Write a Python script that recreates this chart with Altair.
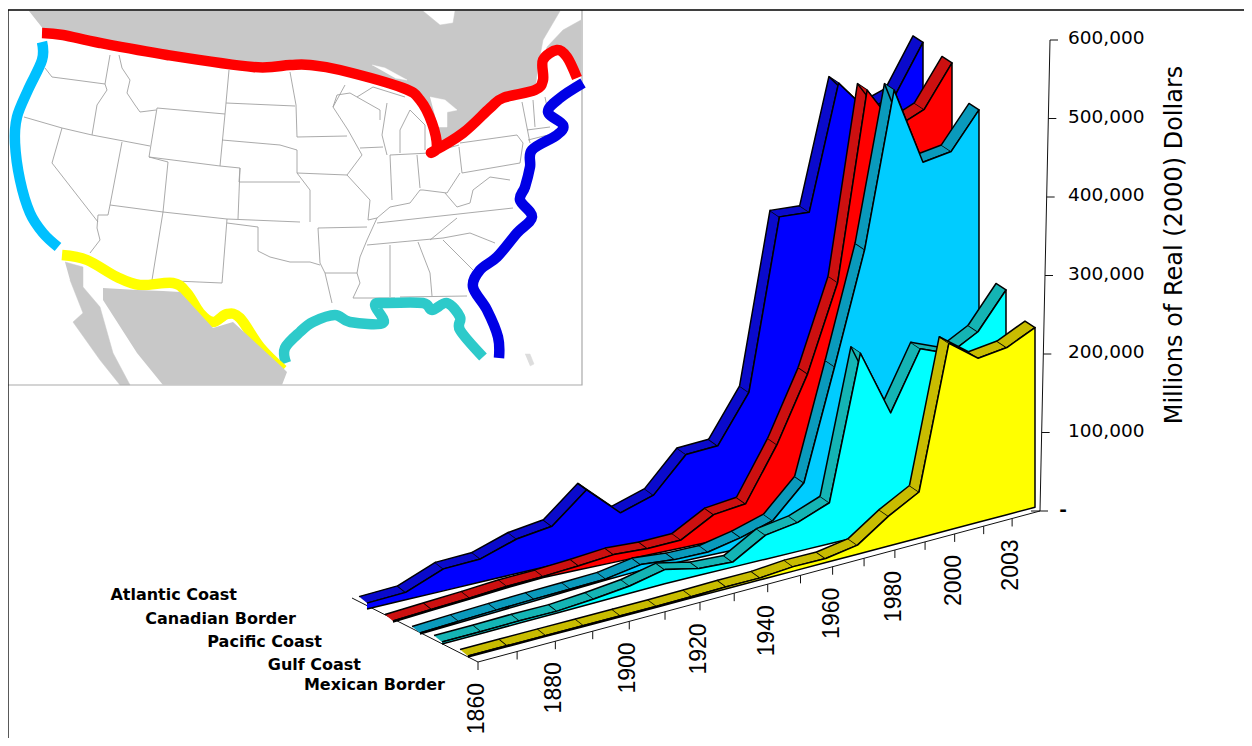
import altair as alt
import pandas as pd

# ---------- chart data (millions of real 2000 dollars) ----------
years = [1860,1870,1880,1890,1900,1910,1920,1930,1940,1950,1960,1970,1980,1990,2000,2002,2003,2004]
atlantic = [7500,9500,28000,29500,44000,49500,85500,46000,58500,100500,102000,160500,375000,372000,527500,484000,495500,554000]
canadian = [1300,1300,1300,1900,1300,5100,9900,8300,10200,33600,38700,105400,187300,295600,532500,477200,492300,544000]
pacific = [1300,2000,2300,2300,1800,1500,7400,4200,4600,13800,26400,65900,205100,346000,540800,440800,446700,491800]
gulf = [2500,2500,2900,2300,5100,9300,18200,8500,6400,30600,36900,52200,233100,147800,220400,205100,224200,268800]
mexican = [1300,1300,1300,1300,1300,1300,1800,2500,2500,5700,5100,11500,38000,58500,238000,209000,213000,229000]
series_names = ["Atlantic Coast","Canadian Border","Pacific Coast","Gulf Coast","Mexican Border"]
y_ticks = [100000,200000,300000,400000,500000,600000]

# ---------- inset map outlines, in image coordinates ----------
canada = [(29,11),(423,11),(440,25),(453,23),(455,11),(560,11),(543,40),(538,67),(535,90),(503,98),(490,108),(463,133),(432,152),(437,147),(432,123),(420,100),(403,88),(340,70),(290,65),(253,67),(167,55),(100,43),(63,35),(44,30)]
maritimes = [(581,20),(563,30),(547,47),(543,62),(557,50),(567,57),(577,78),(581,72)]
lakes = [[(372,65),(385,68),(407,80),(395,78)],[(430,97),(445,100),(457,110),(447,112),(447,127),(438,127)]]
baja = [(65,262),(83,267),(83,287),(100,307),(113,353),(130,385),(120,385),(100,360),(73,322),(83,313),(70,280)]
mex_x = [103,137,163,180,213,233,282,287]
mex_top = [288,290,291,292,328,322,367,372]
mex_bottom = [300,353,385,385,385,385,385,372]
state_lines = [
 [(45,68),(52,77),(75,80),(105,84)], [(110,55),(105,84),(107,90),(97,105),(92,135)],
 [(24,117),(62,128),(92,135),(150,146)], [(119,55),(122,68),(130,80),(127,93),(135,105),(140,112),(156,110)],
 [(157,108),(225,114),(220,166),(149,157),(157,108)], [(229,70),(225,114)], [(226,103),(295,106)],
 [(290,72),(296,105),(297,137)], [(222,140),(280,145),(297,150),(297,173),(310,190),(310,222)],
 [(220,166),(240,168),(239,182),(300,182)], [(62,128),(52,163),(98,222)], [(122,142),(110,205)],
 [(110,205),(108,215),(98,215),(97,228),(100,240),(90,253)], [(110,205),(163,212),(227,219),(300,222)],
 [(163,212),(152,280),(222,283),(227,219)], [(227,223),(258,227),(258,251),(270,257),(290,262),(310,262),(320,265)],
 [(149,157),(168,162),(163,212)], [(240,168),(238,219)], [(297,137),(347,136)], [(345,85),(333,107),(348,130),(362,155),(347,175),(370,200),(368,220),(377,218)],
 [(360,148),(383,147)], [(297,173),(347,175)], [(318,228),(367,227)], [(325,273),(357,273)],
 [(318,228),(320,263),(325,273),(332,303)], [(377,218),(367,240),(360,257),(357,273),(360,283),(353,298),(395,298)],
 [(390,245),(390,297)], [(418,242),(430,273),(432,296)], [(400,297),(467,296)], [(443,240),(473,270)],
 [(377,223),(513,208)], [(443,238),(470,233),(495,243)], [(367,245),(443,238)], [(430,240),(457,218)],
 [(377,218),(390,207),(410,203),(420,190),(423,190),(447,193),(460,173)], [(445,193),(457,207),(470,203),(473,190),(490,177),(510,180)],
 [(417,155),(420,188)], [(390,155),(392,200)], [(390,155),(430,153),(459,145)], [(459,147),(462,173)],
 [(460,143),(517,135)], [(462,173),(520,163)], [(517,135),(523,143),(520,163)], [(522,102),(530,143)], [(533,100),(535,127)],
 [(527,130),(550,127)], [(528,140),(548,135)], [(545,97),(547,107)], [(387,103),(382,135),(387,155)], [(400,153),(400,130),(410,110)],
 [(333,107),(337,95),(350,93),(357,97),(380,110),(380,120)], [(357,97),(373,87),(405,97)], [(410,110),(425,125),(425,150)],
]
coast_red = [(42,33),(63,35),(100,43),(167,55),(253,67),(290,65),(310,65),(340,70),(403,88),(420,100),(432,123),(437,147),(432,152),(463,133),(490,108),(503,98),(535,90),(543,80),(543,60),(557,50),(567,57),(577,78)]
coast_blue = [(583,83),(560,98),(548,112),(563,125),(557,135),(532,150),(530,167),(525,187),(520,200),(532,217),(517,233),(497,257),(480,270),(473,287),(487,310),(498,337),(499,358)]
coast_gulf = [(286,363),(285,348),(300,332),(313,322),(335,315),(350,322),(383,323),(375,305),(387,303),(423,303),(432,310),(447,303),(460,317),(460,330),(483,357)]
coast_mexico = [(62,255),(87,260),(117,277),(140,285),(173,283),(187,293),(200,313),(213,322),(227,314),(240,318),(260,347),(283,370)]
coast_pacific = [(42,42),(42,60),(28,90),(17,117),(15,143),(20,180),(30,213),(43,233),(58,247)]

# ---------- scales: image coordinates ----------
X = alt.X("x:Q", scale=alt.Scale(domain=[8,1244], nice=False, zero=False), axis=None)
Y = alt.Y("y:Q", scale=alt.Scale(domain=[738,8], nice=False, zero=False), axis=None)

# ---------- oblique perspective projection of the 3-D chart ----------
def persp(i):
    u = i / (len(years) - 1)
    return u * 1.197 / (1 + 0.197 * u)
left_x, right_x = [367,393,420,442,468], [923,952,979,1006,1035]
left_y, right_y = [609,622,634,644,657], [477,490,496,501,507]
steep, shallow = [.237,.30,.29,.27,.264], [.237,.214,.22,.242,.264]
px_per_dollar = 78.5 / 100000
def base(d, i):
    x = left_x[d] + (right_x[d]-left_x[d])*persp(i)
    y = max(left_y[d] - steep[d]*(x-left_x[d]), right_y[d] + shallow[d]*(right_x[d]-x))
    return x, y

area_fill = ["#0000ff","#ff0000","#00ccff","#00ffff","#ffff00"]
rib_fill = ["#0a0acc","#cc1010","#0a9abc","#14b4b4","#c8bc00"]
rows, pid = [], 0
def poly(pts, fill, stroke="#000000"):
    global pid
    for k, (x, y) in enumerate(pts):
        rows.append(dict(poly=f"p{pid:04d}", ord=k, x=x, y=y, fill=fill, stroke=stroke))
    pid += 1

for d, vals in enumerate([atlantic, canadian, pacific, gulf, mexican]):
    tops = []
    for i, v in enumerate(vals):
        bx, by = base(d, i)
        tops.append((bx, by - v*px_per_dollar))
    for i in range(len(vals)-1):
        (x0,y0),(x1,y1) = tops[i], tops[i+1]
        t0, t1 = persp(i), persp(i+1)
        poly([(x0,y0),(x1,y1),(x1-8-2*t1,y1-6.5),(x0-8-2*t0,y0-6.5)], rib_fill[d])
    bottom = [base(d,i) for i in range(len(vals))]
    poly(tops + bottom[::-1], area_fill[d])
poly_df = pd.DataFrame(rows)

polys = alt.Chart(poly_df).mark_line(strokeWidth=1.5, strokeJoin="round").encode(
    x=X, y=Y, order="ord:Q", detail="poly:N",
    fill=alt.Fill("fill:N", scale=None), stroke=alt.Stroke("stroke:N", scale=None))

# ---------- inset map ----------
def land_layer(shape, col="#c8c8c8"):
    global rows, pid
    rows, pid = [], 0
    poly(shape, col, col)
    return alt.Chart(pd.DataFrame(rows)).mark_line(strokeWidth=0.5).encode(
        x=X, y=Y, order="ord:Q", detail="poly:N",
        fill=alt.Fill("fill:N", scale=None), stroke=alt.Stroke("stroke:N", scale=None))
mex_area = alt.Chart(pd.DataFrame(dict(x=mex_x, y=mex_top, y2=mex_bottom))).mark_area(color="#c8c8c8", opacity=1).encode(
    x=X, y=Y, y2=alt.Y2("y2:Q"))
land = [land_layer(canada), land_layer(maritimes), land_layer(baja),
        land_layer(lakes[0], "#ffffff"), land_layer(lakes[1], "#ffffff"),
        land_layer([(525,354),(530,354),(534,364),(530,366)], "#dddddd")]

def lines(list_of_pts):
    return pd.DataFrame([dict(line=f"l{n:03d}", ord=k, x=x, y=y)
                         for n, pts in enumerate(list_of_pts) for k, (x, y) in enumerate(pts)])
states = alt.Chart(lines(state_lines)).mark_line(strokeWidth=0.9, color="#a0a0a0", fillOpacity=0).encode(
    x=X, y=Y, order="ord:Q", detail="line:N")

def coast(pts, col):
    return alt.Chart(lines([pts])).mark_line(strokeWidth=10.5, color=col, interpolate="cardinal", fillOpacity=0,
                                             strokeCap="butt", strokeJoin="round").encode(x=X, y=Y, order="ord:Q")
coasts = [coast(coast_red,"#ff0000"), coast(coast_blue,"#0000e6"), coast(coast_gulf,"#2dcaca"), coast(coast_pacific,"#00c0ff"), coast(coast_mexico,"#ffff00")]

frame_black = alt.Chart(lines([[(8,738),(8,10),(1244,10)]])).mark_line(strokeWidth=1.3, color="#000000", fillOpacity=0).encode(x=X, y=Y, order="ord:Q")
frame_gray = alt.Chart(lines([[(8,385),(582,385),(582,10)]])).mark_line(strokeWidth=1.2, color="#aaaaaa", fillOpacity=0).encode(x=X, y=Y, order="ord:Q")

# ---------- axes ----------
def cat_pos(i):
    t = persp(i)
    return 478 + 562*t, 662 - 151*t
def val_pos(v):
    return 1040 + v/600000*10, 511 - v*px_per_dollar

axis_pts = [[cat_pos(0), cat_pos(len(years)-1)], [cat_pos(0), (352,598)], [val_pos(0), val_pos(600000)], [(1031,511),(1048,511)]]
for i in range(len(years)-1):
    x, y = cat_pos(i)
    axis_pts.append([(x,y),(x,y+8)])
for v in y_ticks:
    x, y = val_pos(v)
    axis_pts.append([(x,y),(x+8,y)])
axes = alt.Chart(lines(axis_pts)).mark_line(strokeWidth=1, color="#111111", fillOpacity=0).encode(x=X, y=Y, order="ord:Q", detail="line:N")

year_df = pd.DataFrame([dict(x=cat_pos(i)[0]-1, y=cat_pos(i)[1]+21, t=str(years[i])) for i in range(0, len(years)-1, 2)])
year_text = alt.Chart(year_df).mark_text(font="Liberation Sans", fontSize=23, angle=270, align="right", baseline="middle", color="#000000").encode(x=X, y=Y, text="t:N")

val_df = pd.DataFrame([dict(x=1068, y=val_pos(v)[1]-2, t=f"{v:,}") for v in y_ticks])
val_text = alt.Chart(val_df).mark_text(font="DejaVu Sans", fontSize=18.5, align="left", baseline="middle", color="#000000").encode(x=X, y=Y, text="t:N")
zero_text = alt.Chart(pd.DataFrame([dict(x=1063, y=510, t="-")])).mark_text(font="DejaVu Sans", fontSize=18.5, align="center", baseline="middle", fontWeight="bold", color="#000000").encode(x=X, y=Y, text="t:N")
title_text = alt.Chart(pd.DataFrame([dict(x=1175, y=245, t="Millions of Real (2000) Dollars")])).mark_text(font="DejaVu Sans", fontSize=24, angle=270, align="center", baseline="middle", color="#000000").encode(x=X, y=Y, text="t:N")

name_right = [237,296,322,361,445]
name_y = [595,619,642,665,685]
name_df = pd.DataFrame([dict(x=a, y=b, t=n) for a, b, n in zip(name_right, name_y, series_names)])
name_text = alt.Chart(name_df).mark_text(font="DejaVu Sans", fontSize=16, fontWeight="bold", align="right", baseline="middle", color="#000000").encode(x=X, y=Y, text="t:N")

chart = alt.layer(*land, states, frame_gray, frame_black, axes, polys, year_text, val_text, zero_text, title_text, name_text,
                  *coasts, mex_area).properties(
    width=1236, height=730, padding=0, autosize=alt.AutoSizeParams(type="none"), background="#ffffff"
).configure_view(stroke=None)

chart.save("out.html", embed_options={"renderer": "svg", "actions": False})
